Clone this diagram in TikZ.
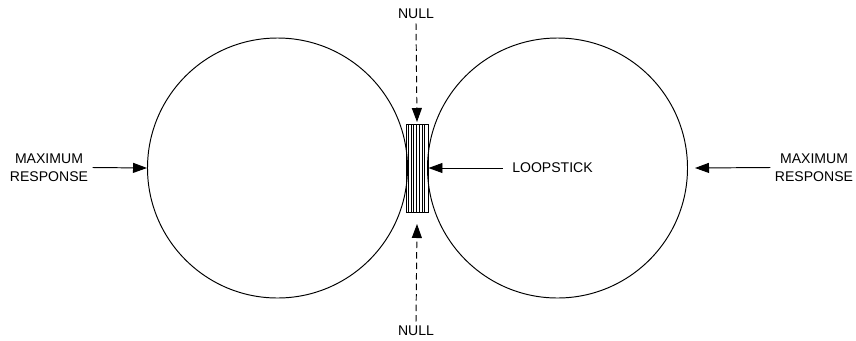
\documentclass[tikz,border=0pt]{standalone}
\usepackage{fontspec}
\setmainfont{Liberation Sans}
\usetikzlibrary{arrows.meta}
\begin{document}
\begin{tikzpicture}[scale=1.0,
  line width=0.55pt,
  lbl/.style={font=\fontsize{8}{10.2}\selectfont, align=center, inner sep=0.08cm},
  lobe/.style={draw, circle, inner sep=0pt, minimum size=5.2cm},
  arr/.style={-{Triangle[length=0.28cm,width=0.2cm]}},
  nullarr/.style={arr, dash pattern=on 0.13cm off 0.08cm}]
\useasboundingbox (0,0) rectangle (17.12,6.8);
\node[lobe] (left) at (5.55,3.44) {};
\node[lobe] (right) at (11.15,3.44) {};
\node[draw, minimum width=0.44cm, minimum height=1.76cm, inner sep=0pt] (stick) at (8.34,3.44) {};
\foreach \i in {1,...,7}
  \draw[line width=0.4pt] ([xshift=\i*0.055cm]stick.south west) -- ([xshift=\i*0.055cm]stick.north west);
\node[lbl] (maxl) at (0.98,3.45) {MAXIMUM\\RESPONSE};
\node[lbl] (maxr) at (16.28,3.45) {MAXIMUM\\RESPONSE};
\node[lbl, inner sep=0.18cm] (loop) at (11.05,3.44) {LOOPSTICK};
\node[lbl] (nullt) at (8.32,6.52) {NULL};
\node[lbl] (nullb) at (8.32,0.18) {NULL};
\coordinate (rtip) at (13.9,3.44);
\coordinate (ttip) at (8.34,4.36);
\coordinate (btip) at (8.34,2.32);
\draw[arr] (maxl.east) -- (left.west);
\draw[arr] (maxr.west) -- (rtip);
\draw[arr] (loop.west) -- (stick.east);
\draw[nullarr] (nullt.south) -- (ttip);
\draw[nullarr] (nullb.north) -- (btip);
\end{tikzpicture}
\end{document}
